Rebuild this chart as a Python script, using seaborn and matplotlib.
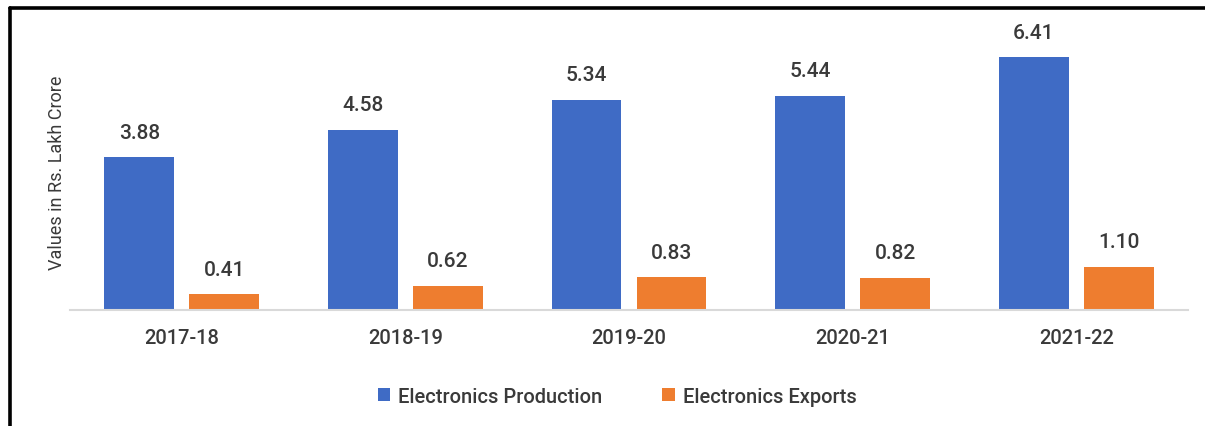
import pandas as pd
import matplotlib.pyplot as plt
import seaborn as sns
from matplotlib.lines import Line2D
from matplotlib.patches import Patch

# ---------- dados ----------
anos = ['2017-18', '2018-19', '2019-20', '2020-21', '2021-22']
producao = [3.88, 4.58, 5.34, 5.44, 6.41]
exportacao = [0.41, 0.62, 0.83, 0.82, 1.10]
series = ['Electronics Production', 'Electronics Exports']
cores = ['#3F6BC5', '#EE7D2F']

df = pd.DataFrame({
    'Ano': anos * 2,
    'Serie': [series[0]] * len(anos) + [series[1]] * len(anos),
    'Valor': producao + exportacao,
})

sns.set_theme(style='white')
plt.rcParams['font.family'] = ['Roboto', 'DejaVu Sans']
plt.rcParams['font.weight'] = 'medium'
cor_texto = '#3a3a3a'

fig = plt.figure(figsize=(12.05, 4.27), dpi=100)
ax = fig.add_axes([0.058, 0.2717, 0.928, 0.646])

sns.barplot(data=df, x='Ano', y='Valor', hue='Serie', palette=cores,
            width=0.76, gap=0.18, ax=ax, legend=False, saturation=1,
            edgecolor='none')

for cont in ax.containers:
    ax.bar_label(cont, fmt='%.2f', padding=11, fontsize=15, color=cor_texto)

ax.set_ylim(0, 7)
ax.set_xlim(-0.5, 4.5)
ax.set_yticks([])
ax.set_xlabel('')
ax.set_ylabel('Values in Rs. Lakh Crore', fontsize=13, color=cor_texto, labelpad=3)
ax.tick_params(axis='x', length=0, pad=13, labelsize=14.5, labelcolor=cor_texto)
for s in ['top', 'right', 'left']:
    ax.spines[s].set_visible(False)
ax.spines['bottom'].set_color('#d9d9d9')
ax.spines['bottom'].set_linewidth(1.5)

handles = [Patch(facecolor=c, edgecolor='none') for c in cores]
fig.legend(handles, series, loc='center', bbox_to_anchor=(0.512, 0.07), ncol=2,
           frameon=False, fontsize=14.5, handlelength=0.6, handleheight=0.6,
           handletextpad=0.4, columnspacing=3.0, labelcolor=cor_texto)

# moldura (apenas topo e esquerda visíveis)
fig.add_artist(Line2D([10 / 1205, 10 / 1205], [0, 1 - 9 / 427], color='black', lw=2.6,
                      transform=fig.transFigure))
fig.add_artist(Line2D([10 / 1205, 1], [1 - 9 / 427, 1 - 9 / 427], color='black', lw=2.6,
                      transform=fig.transFigure))

plt.savefig('out.png', dpi=100)
plt.close()
